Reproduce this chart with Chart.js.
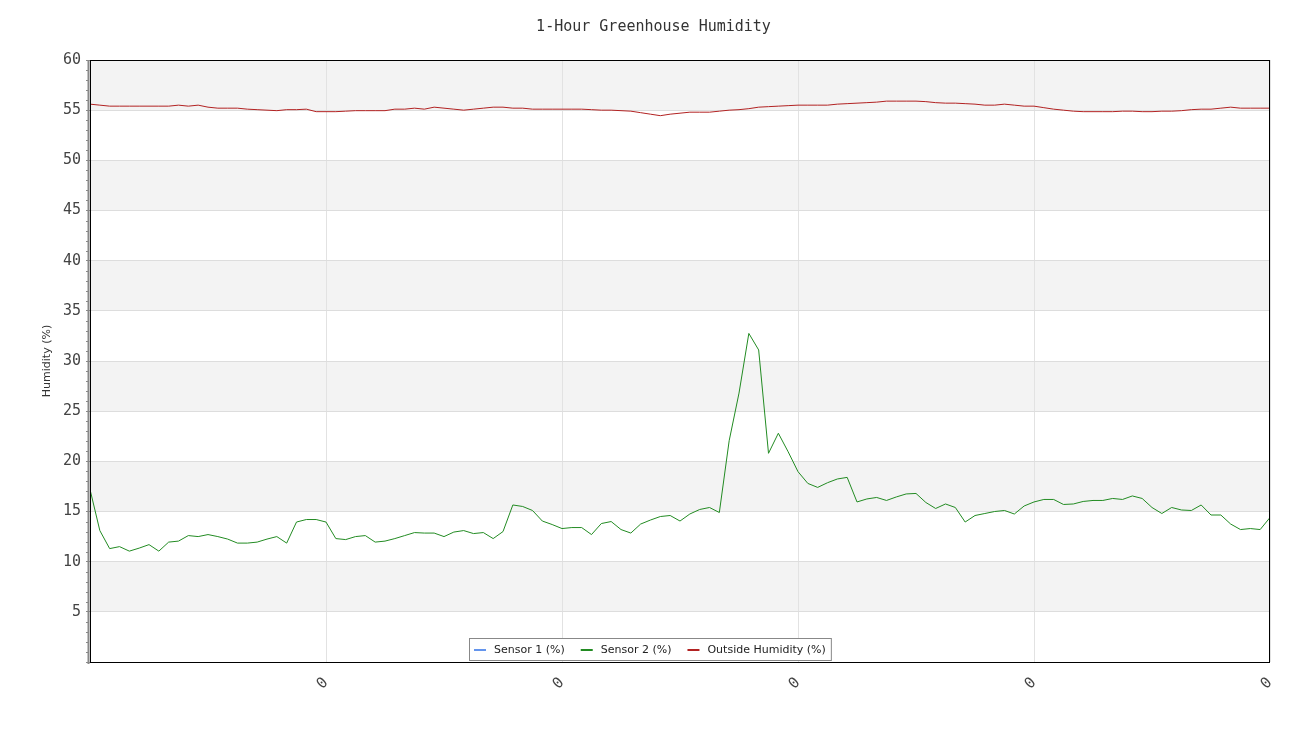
<!DOCTYPE html>
<html>
<head>
<meta charset="utf-8">
<title>1-Hour Greenhouse Humidity</title>
<script src="https://cdn.jsdelivr.net/npm/chart.js@4.4.1/dist/chart.umd.min.js"></script>
<style>
    html, body { margin: 0; padding: 0; background: #fff; }
    #humidity-chart { display: block; }
</style>
</head>
<body>
<canvas id="humidity-chart" width="1300" height="750"></canvas>
<script>
const chartTitle = '1-Hour Greenhouse Humidity';
const yAxisTitle = 'Humidity (%)';

const seriesLabels = ['Sensor 1 (%)', 'Sensor 2 (%)', 'Outside Humidity (%)'];
const seriesColors = ['rgb(100,149,237)', 'rgb(34,139,34)', 'rgb(178,34,34)'];

// x ticks (sample index) and their labels
const xTickValues = [24, 48, 72, 96, 120];
const xTickLabels = ['0', '0', '0', '0', '0'];

// sensor 1 reported nothing in this hour
const sensor1Values = [];

const sensor2Values = [
    17.2, 13.1, 11.3, 11.5, 11.05, 11.35, 11.7, 11.05, 11.95, 12.05,
    12.6, 12.5, 12.7, 12.5, 12.25, 11.85, 11.85, 11.95, 12.25, 12.5,
    11.85, 13.95, 14.2, 14.2, 13.95, 12.3, 12.2, 12.5, 12.6, 11.95,
    12.05, 12.3, 12.6, 12.9, 12.85, 12.85, 12.5, 12.95, 13.1, 12.8,
    12.9, 12.3, 13.0, 15.65, 15.5, 15.1, 14.05, 13.7, 13.3, 13.4,
    13.4, 12.7, 13.8, 14.0, 13.2, 12.85, 13.75, 14.15, 14.5, 14.6,
    14.05, 14.75, 15.2, 15.4, 14.9, 22.05, 26.8, 32.75, 31.1, 20.8,
    22.8, 20.95, 18.97, 17.8, 17.4, 17.87, 18.24, 18.4, 15.95, 16.25,
    16.4, 16.1, 16.45, 16.75, 16.8, 15.9, 15.3, 15.75, 15.4, 13.95,
    14.6, 14.8, 15.0, 15.1, 14.75, 15.55, 15.95, 16.2, 16.2, 15.7,
    15.75, 16.0, 16.1, 16.1, 16.3, 16.2, 16.55, 16.3, 15.4, 14.8,
    15.4, 15.15, 15.1, 15.65, 14.65, 14.65, 13.75, 13.2, 13.3, 13.2,
    14.4
];

const outsideValues = [
    55.6, 55.5, 55.4, 55.4, 55.4, 55.4, 55.4, 55.4, 55.4, 55.5,
    55.4, 55.5, 55.3, 55.2, 55.2, 55.2, 55.1, 55.05, 55.0, 54.95,
    55.05, 55.05, 55.1, 54.85, 54.85, 54.85, 54.9, 54.95, 54.95, 54.95,
    54.95, 55.1, 55.1, 55.2, 55.1, 55.3, 55.2, 55.1, 55.0, 55.1,
    55.2, 55.3, 55.3, 55.2, 55.2, 55.1, 55.1, 55.1, 55.1, 55.1,
    55.1, 55.05, 55.0, 55.0, 54.95, 54.9, 54.75, 54.6, 54.45, 54.6,
    54.7, 54.8, 54.8, 54.8, 54.9, 55.0, 55.05, 55.15, 55.3, 55.35,
    55.4, 55.45, 55.5, 55.5, 55.5, 55.5, 55.6, 55.65, 55.7, 55.75,
    55.8, 55.9, 55.9, 55.9, 55.9, 55.85, 55.75, 55.7, 55.7, 55.65,
    55.6, 55.5, 55.5, 55.6, 55.5, 55.4, 55.4, 55.25, 55.1, 55.0,
    54.9, 54.85, 54.85, 54.85, 54.85, 54.9, 54.9, 54.85, 54.85, 54.9,
    54.9, 54.95, 55.05, 55.1, 55.1, 55.2, 55.3, 55.2, 55.2, 55.2,
    55.2
];

const MONO = '"DejaVu Sans Mono", monospace';
const SANS = '"DejaVu Sans", sans-serif';

const toPoints = values => values.map((v, i) => ({ x: i, y: v }));

// grey / white bands every 5 units
const bandPlugin = {
    id: 'bands',
    beforeDraw(chart) {
        const { ctx, chartArea } = chart;
        const y = chart.scales.y;
        ctx.save();
        ctx.fillStyle = '#f3f3f3';
        for (let v = 5; v < 60; v += 10) {
            const top = y.getPixelForValue(v + 5);
            const bottom = y.getPixelForValue(v);
            ctx.fillRect(chartArea.left, top, chartArea.right - chartArea.left, bottom - top);
        }
        ctx.restore();
    }
};

// frame, grey left axis bar and minor ticks
const framePlugin = {
    id: 'frame',
    afterDraw(chart) {
        const { ctx, chartArea } = chart;
        const y = chart.scales.y;
        ctx.save();
        ctx.strokeStyle = '#888';
        ctx.lineWidth = 2;
        ctx.beginPath();
        ctx.moveTo(chartArea.left - 1.5, chartArea.top);
        ctx.lineTo(chartArea.left - 1.5, chartArea.bottom + 2);
        ctx.stroke();

        ctx.lineWidth = 1;
        ctx.beginPath();
        for (let v = 1; v < 60; v++) {
            if (v % 5 === 0) continue;
            const py = Math.round(y.getPixelForValue(v)) + 0.5;
            ctx.moveTo(chartArea.left - 4, py);
            ctx.lineTo(chartArea.left - 2, py);
        }
        ctx.stroke();

        ctx.strokeStyle = '#000';
        ctx.strokeRect(chartArea.left + 0.5, chartArea.top + 0.5,
            chartArea.right - chartArea.left - 1, chartArea.bottom - chartArea.top);
        ctx.restore();
    }
};

// legend box sitting inside the bottom of the plot
const insideLegendPlugin = {
    id: 'insideLegend',
    afterDraw(chart) {
        const { ctx, chartArea } = chart;
        const sets = chart.data.datasets;
        ctx.save();
        ctx.font = '11px ' + SANS;
        const pad = 5, marker = 12, gap = 8, itemGap = 16;
        const widths = sets.map(d => ctx.measureText(d.label).width);
        let total = pad * 2 + itemGap * (sets.length - 1);
        widths.forEach(w => { total += marker + gap + w; });
        const h = 22;
        const left = Math.round(chart.width / 2 - total / 2);
        const top = chartArea.bottom - 2 - h;
        ctx.fillStyle = '#fff';
        ctx.fillRect(left, top, total, h);
        ctx.strokeStyle = '#888';
        ctx.lineWidth = 1;
        ctx.strokeRect(left + 0.5, top + 0.5, total, h);

        let x = left + pad;
        const mid = top + h / 2 + 1;
        sets.forEach((d, i) => {
            ctx.strokeStyle = d.borderColor;
            ctx.lineWidth = 2;
            ctx.beginPath();
            ctx.moveTo(x, mid);
            ctx.lineTo(x + marker, mid);
            ctx.stroke();
            x += marker + gap;
            ctx.fillStyle = '#222';
            ctx.textBaseline = 'middle';
            ctx.fillText(d.label, x, mid);
            x += widths[i] + itemGap;
        });
        ctx.restore();
    }
};

new Chart(document.getElementById('humidity-chart'), {
    type: 'line',
    data: {
        datasets: [
            { label: seriesLabels[0], data: toPoints(sensor1Values), borderColor: seriesColors[0] },
            { label: seriesLabels[1], data: toPoints(sensor2Values), borderColor: seriesColors[1] },
            { label: seriesLabels[2], data: toPoints(outsideValues), borderColor: seriesColors[2] }
        ]
    },
    options: {
        responsive: false,
        animation: false,
        devicePixelRatio: 1,
        elements: {
            line: { borderWidth: 1, tension: 0, fill: false },
            point: { radius: 0 }
        },
        layout: { padding: { left: 37, right: 30, top: 0, bottom: 0 } },
        plugins: {
            title: {
                display: true,
                text: chartTitle,
                color: '#333',
                font: { family: MONO, size: 15, weight: 'normal' },
                padding: { top: 18, bottom: 24 }
            },
            legend: { display: false },
            tooltip: { enabled: false }
        },
        scales: {
            x: {
                type: 'linear',
                min: 0,
                max: 120,
                afterFit: s => { s.height = 88; },
                afterBuildTicks: s => { s.ticks = xTickValues.map(v => ({ value: v })); },
                border: { display: false },
                grid: { color: '#e2e2e2', drawTicks: false },
                ticks: {
                    autoSkip: false,
                    minRotation: 45,
                    maxRotation: 45,
                    padding: 12,
                    color: '#444',
                    font: { family: MONO, size: 15 },
                    callback: (v, i) => xTickLabels[i]
                }
            },
            y: {
                min: 0,
                max: 60,
                afterFit: s => { s.width = 53; },
                border: { display: false },
                grid: { color: '#dddddd', tickColor: '#888', tickLength: 4 },
                ticks: {
                    stepSize: 5,
                    padding: 5,
                    color: '#444',
                    font: { family: MONO, size: 15 },
                    callback: v => v === 0 ? '' : v
                },
                title: {
                    display: true,
                    text: yAxisTitle,
                    color: '#333',
                    font: { family: SANS, size: 11 },
                    padding: { top: 4, bottom: 4 }
                }
            }
        }
    },
    plugins: [bandPlugin, framePlugin, insideLegendPlugin]
});
</script>
</body>
</html>
